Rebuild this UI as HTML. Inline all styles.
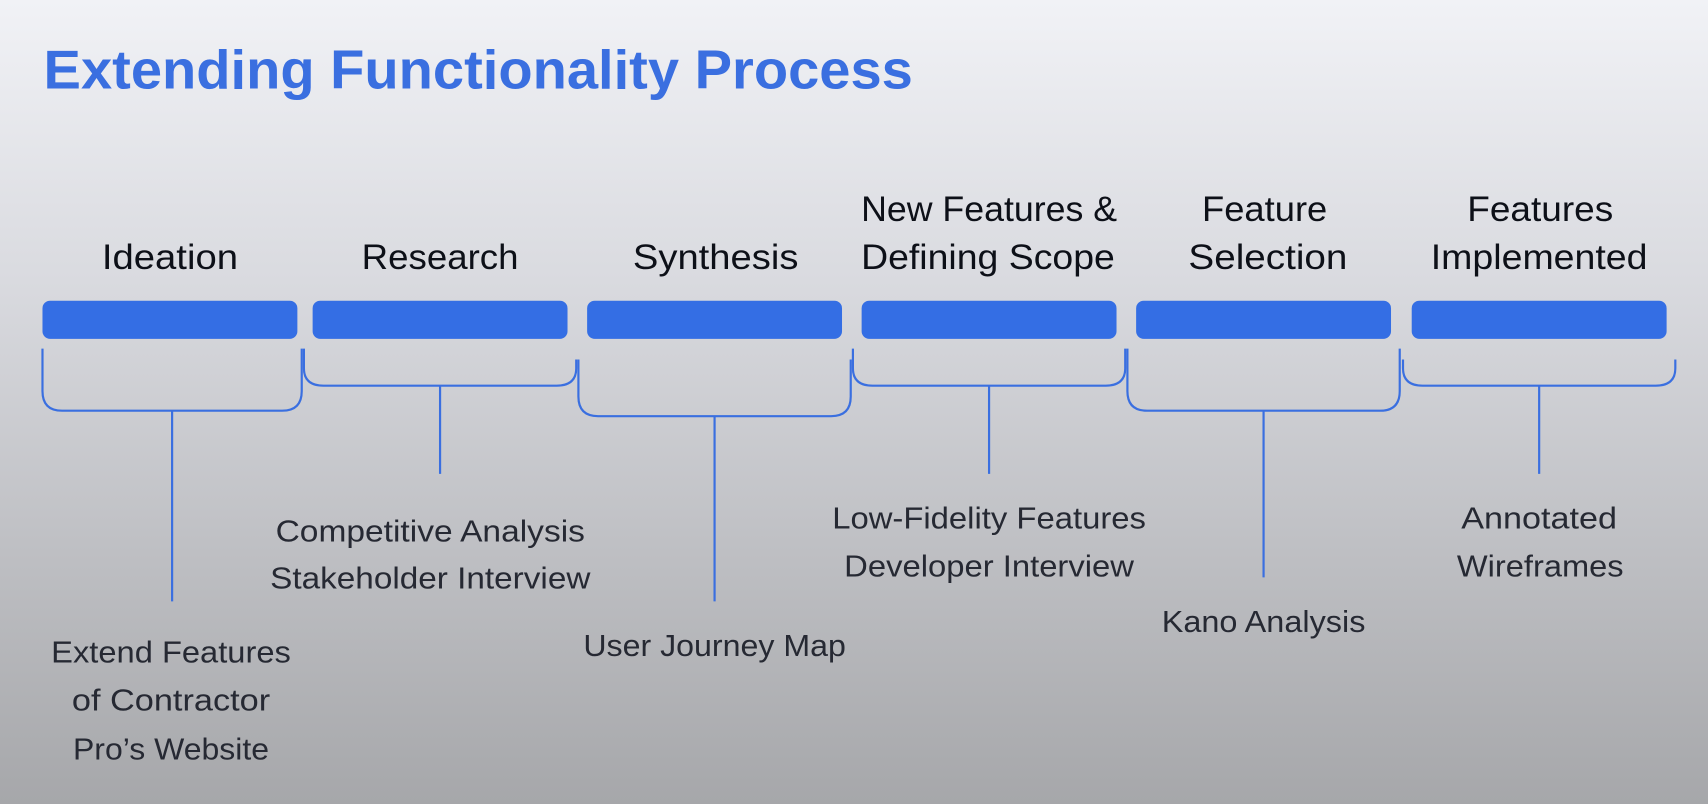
<!DOCTYPE html>
<html><head><meta charset="utf-8"><style>
html,body{margin:0;padding:0;width:1708px;height:804px;overflow:hidden}
body{background:linear-gradient(180deg,#f1f2f6 0%,#d9dadf 35%,#bdbec2 70%,#a6a7aa 100%)}
svg{display:block}
.h{font-family:"Liberation Sans",sans-serif;font-size:32px;font-weight:500;fill:#0d1018;text-anchor:middle}
.b{font-family:"Liberation Sans",sans-serif;font-size:28px;fill:#262933;text-anchor:middle}
.l{fill:none;stroke:#3a6fe0;stroke-width:2}
</style></head><body>
<svg width="1708" height="804" viewBox="0 0 1568 738">
<text x="40" y="81" font-family="Liberation Sans,sans-serif" font-size="50" font-weight="bold" fill="#3a6fe0" textLength="798" lengthAdjust="spacingAndGlyphs">Extending Functionality Process</text>
<text class="h" x="156" y="247" textLength="125" lengthAdjust="spacingAndGlyphs">Ideation</text>
<text class="h" x="404" y="247" textLength="144" lengthAdjust="spacingAndGlyphs">Research</text>
<text class="h" x="657" y="247" textLength="152" lengthAdjust="spacingAndGlyphs">Synthesis</text>
<text class="h" x="908" y="203" textLength="235" lengthAdjust="spacingAndGlyphs">New Features &amp;</text>
<text class="h" x="907" y="247" textLength="233" lengthAdjust="spacingAndGlyphs">Defining Scope</text>
<text class="h" x="1161" y="203" textLength="115" lengthAdjust="spacingAndGlyphs">Feature</text>
<text class="h" x="1164" y="247" textLength="146" lengthAdjust="spacingAndGlyphs">Selection</text>
<text class="h" x="1414" y="203" textLength="134" lengthAdjust="spacingAndGlyphs">Features</text>
<text class="h" x="1413" y="247" textLength="199" lengthAdjust="spacingAndGlyphs">Implemented</text>
<g fill="#346ee4">
<rect x="39" y="276" width="234" height="35" rx="7"/>
<rect x="287" y="276" width="234" height="35" rx="7"/>
<rect x="539" y="276" width="234" height="35" rx="7"/>
<rect x="791" y="276" width="234" height="35" rx="7"/>
<rect x="1043" y="276" width="234" height="35" rx="7"/>
<rect x="1296" y="276" width="234" height="35" rx="7"/>
</g>
<path class="l" d="M39 320 V359 Q39 377 57 377 H259 Q277 377 277 359 V320 M158 377 V552"/>
<path class="l" d="M279 320 V338 Q279 354 297 354 H511 Q529 354 529 338 V330 M404 354 V435"/>
<path class="l" d="M531 330 V364 Q531 382 549 382 H763 Q781 382 781 364 V330 M656 382 V552"/>
<path class="l" d="M783 320 V338 Q783 354 801 354 H1015 Q1033 354 1033 338 V320 M908 354 V435"/>
<path class="l" d="M1035 320 V359 Q1035 377 1053 377 H1267 Q1285 377 1285 359 V320 M1160 377 V530"/>
<path class="l" d="M1288 330 V338 Q1288 354 1306 354 H1520 Q1538 354 1538 338 V330 M1413 354 V435"/>
<text class="b" x="157" y="608" textLength="220" lengthAdjust="spacingAndGlyphs">Extend Features</text>
<text class="b" x="157" y="652" textLength="182" lengthAdjust="spacingAndGlyphs">of Contractor</text>
<text class="b" x="157" y="697" textLength="180" lengthAdjust="spacingAndGlyphs">Pro’s Website</text>
<text class="b" x="395" y="497" textLength="284" lengthAdjust="spacingAndGlyphs">Competitive Analysis</text>
<text class="b" x="395" y="540" textLength="294" lengthAdjust="spacingAndGlyphs">Stakeholder Interview</text>
<text class="b" x="656" y="602" textLength="241" lengthAdjust="spacingAndGlyphs">User Journey Map</text>
<text class="b" x="908" y="485" textLength="288" lengthAdjust="spacingAndGlyphs">Low-Fidelity Features</text>
<text class="b" x="908" y="529" textLength="266" lengthAdjust="spacingAndGlyphs">Developer Interview</text>
<text class="b" x="1160" y="580" textLength="187" lengthAdjust="spacingAndGlyphs">Kano Analysis</text>
<text class="b" x="1413" y="485" textLength="143" lengthAdjust="spacingAndGlyphs">Annotated</text>
<text class="b" x="1414" y="529" textLength="153" lengthAdjust="spacingAndGlyphs">Wireframes</text>
</svg>
</body></html>
